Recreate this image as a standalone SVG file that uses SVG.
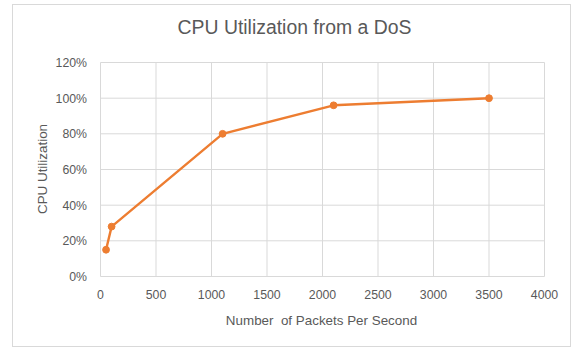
<svg xmlns="http://www.w3.org/2000/svg" width="573" height="348" viewBox="0 0 573 348">
  <style>
    .frame { fill: #ffffff; stroke: #d9d9d9; stroke-width: 1; }
    .grid { stroke: #d9d9d9; stroke-width: 1; fill: none; }
    .tick { font-family: "Liberation Sans", Arial, sans-serif; font-size: 12.3px; fill: #595959; }
    .ytick { text-anchor: end; }
    .xtick { text-anchor: middle; }
    .title { font-family: "Liberation Sans", Arial, sans-serif; font-size: 19.4px; fill: #595959; text-anchor: middle; }
    .axis-title { font-family: "Liberation Sans", Arial, sans-serif; font-size: 13.4px; fill: #595959; text-anchor: middle; }
    .series { fill: none; stroke: #ed7d31; stroke-width: 2.4; stroke-linejoin: round; stroke-linecap: round; }
    .marker { fill: #ed7d31; stroke: #ed7d31; stroke-width: 1; }
  </style>

  <!-- chart frame -->
  <rect id="chart-frame" class="frame" x="12.5" y="4.5" width="558" height="342"/>

  <text id="chart-title" class="title" x="294.5" y="34">CPU Utilization from a DoS</text>

  <!-- gridlines -->
  <g id="gridlines" class="grid">
    <line x1="100.5" y1="62.5" x2="544.5" y2="62.5"/>
    <line x1="100.5" y1="98.2" x2="544.5" y2="98.2"/>
    <line x1="100.5" y1="133.8" x2="544.5" y2="133.8"/>
    <line x1="100.5" y1="169.5" x2="544.5" y2="169.5"/>
    <line x1="100.5" y1="205.2" x2="544.5" y2="205.2"/>
    <line x1="100.5" y1="240.8" x2="544.5" y2="240.8"/>
    <line x1="100.5" y1="276.5" x2="544.5" y2="276.5"/>
    <line x1="100.5" y1="62.5" x2="100.5" y2="276.5"/>
    <line x1="156" y1="62.5" x2="156" y2="276.5"/>
    <line x1="211.5" y1="62.5" x2="211.5" y2="276.5"/>
    <line x1="267" y1="62.5" x2="267" y2="276.5"/>
    <line x1="322.5" y1="62.5" x2="322.5" y2="276.5"/>
    <line x1="378" y1="62.5" x2="378" y2="276.5"/>
    <line x1="433.5" y1="62.5" x2="433.5" y2="276.5"/>
    <line x1="489" y1="62.5" x2="489" y2="276.5"/>
    <line x1="544.5" y1="62.5" x2="544.5" y2="276.5"/>
  </g>

  <!-- vertical axis labels -->
  <g id="y-axis">
    <text class="tick ytick" x="87" y="67">120%</text>
    <text class="tick ytick" x="87" y="102.7">100%</text>
    <text class="tick ytick" x="87" y="138.3">80%</text>
    <text class="tick ytick" x="87" y="174">60%</text>
    <text class="tick ytick" x="87" y="209.7">40%</text>
    <text class="tick ytick" x="87" y="245.3">20%</text>
    <text class="tick ytick" x="87" y="281">0%</text>
    <text class="axis-title" transform="translate(47 169) rotate(-90)">CPU Utilization</text>
  </g>

  <!-- horizontal axis labels -->
  <g id="x-axis">
    <text class="tick xtick" x="100.5" y="298.5">0</text>
    <text class="tick xtick" x="156" y="298.5">500</text>
    <text class="tick xtick" x="211.5" y="298.5">1000</text>
    <text class="tick xtick" x="267" y="298.5">1500</text>
    <text class="tick xtick" x="322.5" y="298.5">2000</text>
    <text class="tick xtick" x="378" y="298.5">2500</text>
    <text class="tick xtick" x="433.5" y="298.5">3000</text>
    <text class="tick xtick" x="489" y="298.5">3500</text>
    <text class="tick xtick" x="544.5" y="298.5">4000</text>
    <text class="axis-title" x="321.5" y="324.5" xml:space="preserve">Number  of Packets Per Second</text>
  </g>

  <!-- data series -->
  <g id="connectors">
    <polyline class="series" points="106.05,249.75 111.6,226.6 222.6,133.8 333.6,105.3 489,98.2"/>
  </g>
  <g id="point-50"><circle class="marker" cx="106.05" cy="249.75" r="3.4"/></g>
  <g id="point-100"><circle class="marker" cx="111.6" cy="226.6" r="3.4"/></g>
  <g id="point-1100"><circle class="marker" cx="222.6" cy="133.8" r="3.4"/></g>
  <g id="point-2100"><circle class="marker" cx="333.6" cy="105.3" r="3.4"/></g>
  <g id="point-3500"><circle class="marker" cx="489" cy="98.2" r="3.4"/></g>
</svg>
